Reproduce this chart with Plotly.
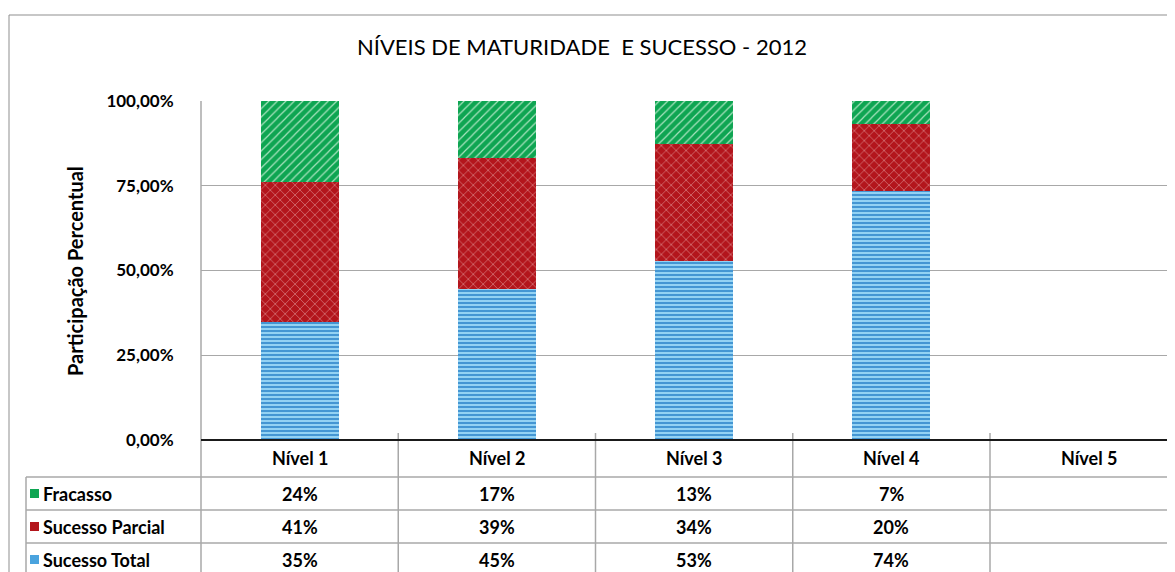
import plotly.graph_objects as go

# ---------------- data ----------------
categories = ["Nível 1", "Nível 2", "Nível 3", "Nível 4", "Nível 5"]
sucesso_total = [34.8, 44.6, 52.9, 73.6, None]
sucesso_parcial = [41.2, 38.6, 34.3, 19.6, None]
fracasso = [24.0, 16.8, 12.8, 6.8, None]
series_names = ["Fracasso", "Sucesso Parcial", "Sucesso Total"]
tick_vals = [0, 25, 50, 75, 100]
tick_text = [("%.2f" % v).replace(".", ",") + "%" for v in tick_vals]
title_text = "NÍVEIS DE MATURIDADE  E SUCESSO - 2012"
y_title = "Participação Percentual"

# ---------------- layout geometry (page pixels) ----------------
OFF = 8                          # page body margin of the html
W, H = 1175 - OFF, 572 - OFF
L, T, B = 201, 101, 440          # plot area left, top, bottom (page px)
PW, PH = 1175 - L, B - T
COLW = 197.25                    # width of one category column (px)
FONT = "Lato"

def px_x(p):
    return (p - L) / PW

def px_y(p):
    return (B - p) / PH

GREEN_BG, GREEN_FG = "#0ea552", "#a9e3bf"
RED_BG, RED_FG = "#b3151c", "#f2c4c4"
BLUE_BG, BLUE_FG = "#93d2f3", "#3b8fd0"

fig = go.Figure()
idx = list(range(len(categories)))

fig.add_trace(go.Bar(
    x=idx, y=sucesso_total, name=series_names[2], width=0.395,
    marker=dict(color=BLUE_BG, line=dict(width=0),
                pattern=dict(shape="-", bgcolor=BLUE_BG, fgcolor=BLUE_FG,
                             size=4, solidity=0.45, fillmode="replace")),
))
fig.add_trace(go.Bar(
    x=idx, y=sucesso_parcial, name=series_names[1], width=0.395,
    marker=dict(color=RED_BG, line=dict(width=0),
                pattern=dict(shape="x", bgcolor=RED_BG, fgcolor=RED_FG,
                             size=7, solidity=0.12, fillmode="replace")),
))
fig.add_trace(go.Bar(
    x=idx, y=fracasso, name=series_names[0], width=0.395,
    marker=dict(color=GREEN_BG, line=dict(width=0),
                pattern=dict(shape="/", bgcolor=GREEN_BG, fgcolor=GREEN_FG,
                             size=6, solidity=0.2, fillmode="replace")),
))

x_max = -0.5 + PW / COLW

shapes = []
gray = "#a8a8a8"
# chart border
shapes.append(dict(type="rect", xref="paper", yref="paper",
                   x0=px_x(9), x1=px_x(1220), y0=px_y(15), y1=px_y(620),
                   line=dict(color="#8f8f8f", width=1), layer="below"))
# table horizontal row lines
for yy in [477, 510, 543]:
    shapes.append(dict(type="line", xref="paper", yref="paper",
                       x0=px_x(26), x1=px_x(1220), y0=px_y(yy), y1=px_y(yy),
                       line=dict(color=gray, width=1.5)))
# left border of legend column
shapes.append(dict(type="line", xref="paper", yref="paper",
                   x0=px_x(26), x1=px_x(26), y0=px_y(477), y1=px_y(620),
                   line=dict(color=gray, width=1.5)))
# y axis line continuing through table
shapes.append(dict(type="line", xref="paper", yref="paper",
                   x0=0, x1=0, y0=1, y1=px_y(620),
                   line=dict(color=gray, width=1.5)))
# column boundaries
for k in range(len(categories)):
    shapes.append(dict(type="line", xref="x", yref="paper",
                       x0=k + 0.5, x1=k + 0.5, y0=px_y(433), y1=px_y(620),
                       line=dict(color=gray, width=1.5)))
# axis line (dark)
shapes.append(dict(type="line", xref="paper", yref="paper",
                   x0=0, x1=1, y0=0, y1=0,
                   line=dict(color="#1a1a1a", width=2)))

annotations = []
annotations.append(dict(text=title_text, xref="paper", yref="paper",
                        x=px_x(582), y=px_y(47), showarrow=False,
                        xanchor="center", yanchor="middle",
                        font=dict(family=FONT, size=22, color="#000")))
annotations.append(dict(text="<b>" + y_title + "</b>", xref="paper", yref="paper",
                        x=px_x(75), y=px_y(271), showarrow=False, textangle=-90,
                        xanchor="center", yanchor="middle",
                        font=dict(family=FONT, size=20, color="#000")))

TS = 18
# header row
for i, c in enumerate(categories):
    annotations.append(dict(text="<b>" + c + "</b>", xref="x", yref="paper",
                            x=i, y=px_y(458), showarrow=False,
                            xanchor="center", yanchor="middle",
                            font=dict(family=FONT, size=TS, color="#000")))

rows = [(series_names[0], fracasso, GREEN_BG, 493.5),
        (series_names[1], sucesso_parcial, RED_BG, 526.5),
        (series_names[2], sucesso_total, "#4aa3de", 559.5)]
for name, vals, col, yc in rows:
    annotations.append(dict(text="<b>" + name + "</b>", xref="paper", yref="paper",
                            x=px_x(41), y=px_y(yc), showarrow=False,
                            xanchor="left", yanchor="middle",
                            font=dict(family=FONT, size=TS, color="#000")))
    shapes.append(dict(type="rect", xref="paper", yref="paper",
                       x0=px_x(30), x1=px_x(39), y0=px_y(yc - 4.5), y1=px_y(yc + 4.5),
                       fillcolor=col, line=dict(width=0)))
    for i, v in enumerate(vals):
        if v is None:
            continue
        annotations.append(dict(text="<b>%d%%</b>" % round(v), xref="x", yref="paper",
                                x=i, y=px_y(yc), showarrow=False,
                                xanchor="center", yanchor="middle",
                                font=dict(family=FONT, size=TS, color="#000")))

fig.update_layout(
    width=W, height=H,
    margin=dict(l=L - OFF, r=0, t=T - OFF, b=H - (B - OFF), pad=0),
    barmode="stack",
    bargap=0.6,
    showlegend=False,
    plot_bgcolor="white", paper_bgcolor="white",
    shapes=shapes,
    annotations=annotations,
    xaxis=dict(range=[-0.5, x_max], showticklabels=False, showgrid=False,
               zeroline=False, showline=False, ticks=""),
    yaxis=dict(range=[0, 100], tickvals=tick_vals, ticktext=tick_text,
               showgrid=True, gridcolor="#a8a8a8", gridwidth=1.2,
               zeroline=False, showline=False, ticks="outside", ticklen=0,
               ticklabelstandoff=23,
               tickfont=dict(family=FONT, size=17, color="#000", weight="bold")),
)

fig.write_html("out.html")
